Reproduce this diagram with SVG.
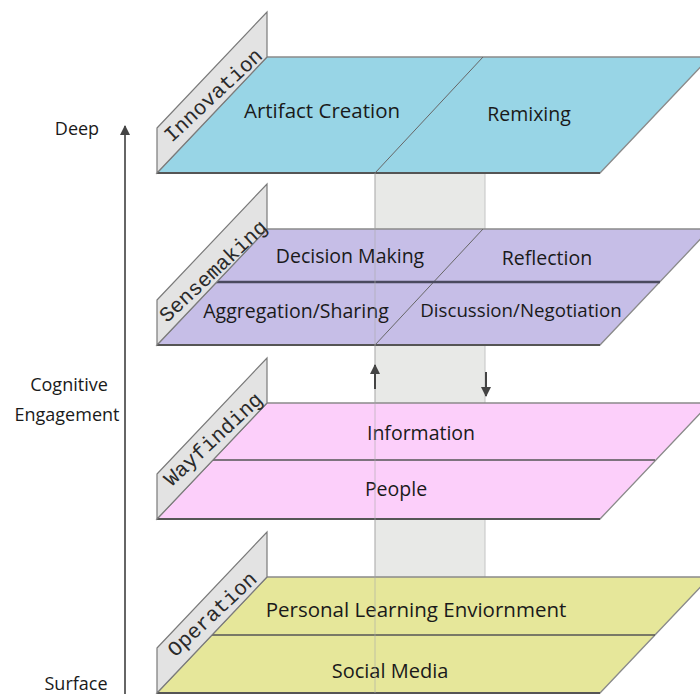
<svg xmlns="http://www.w3.org/2000/svg" width="700" height="694" viewBox="0 0 700 694">
<defs>
<style>
.lbl{font-family:"Open Sans","Liberation Sans",sans-serif;font-size:19.5px;fill:#1a1a1a;text-anchor:middle}
.ax{font-family:"Open Sans","Liberation Sans",sans-serif;font-size:18px;fill:#1a1a1a;text-anchor:middle}
.pt{font-family:"Liberation Mono","DejaVu Sans Mono",monospace;font-size:21px;fill:#2a2a2a;text-anchor:middle;dominant-baseline:central}
.panel{fill:#e3e3e3;stroke:#7a7a7a;stroke-width:1.2}
.edge{stroke:#8a8a8a;stroke-width:1.3}
.bot{stroke:#555;stroke-width:2}
.mid{stroke:#555;stroke-width:1.6}
.div{stroke:#666;stroke-width:1;fill:none}
</style>
<marker id="ah" viewBox="0 0 10 10" refX="9" refY="5" markerWidth="5" markerHeight="6" orient="auto-start-reverse" markerUnits="strokeWidth">
<path d="M0,0 L10,5 L0,10 z" fill="#444"/>
</marker>
</defs>
<rect width="700" height="694" fill="#fff"/>

<g id="band">
<rect x="375" y="173" width="110" height="404" fill="#e8e9e7"/>
<line x1="485" y1="173" x2="485" y2="577" stroke="#c4c4c4" stroke-width="1"/>
<line x1="375" y1="173" x2="375" y2="577" stroke="#c4c4c4" stroke-width="1"/>
</g>

<g id="operation">
<polygon points="267,577 710,577 600,693 157,693" fill="#e6e79a" class="edge"/>
<line x1="157" y1="693" x2="600" y2="693" class="bot"/>
<line x1="212" y1="635" x2="655" y2="635" class="mid"/>
<polygon points="157,648 267,532 267,577 157,693" class="panel"/>
<text class="pt" transform="translate(213,615) rotate(-43)">Operation</text>
<text class="lbl" x="416" y="617" style="font-size:20.5px">Personal Learning Enviornment</text>
<text class="lbl" x="390" y="678" style="font-size:20px">Social Media</text>
</g>

<g id="wayfinding">
<polygon points="267,403 710,403 600,519 157,519" fill="#fccffa" class="edge"/>
<line x1="157" y1="519" x2="600" y2="519" class="bot"/>
<line x1="212" y1="460" x2="655" y2="460" class="mid"/>
<polygon points="157,474 267,358 267,403 157,519" class="panel"/>
<text class="pt" transform="translate(214,440) rotate(-43)">Wayfinding</text>
<text class="lbl" x="421" y="440">Information</text>
<text class="lbl" x="396" y="496">People</text>
</g>

<g id="sensemaking">
<polygon points="267,229 710,229 600,345 157,345" fill="#c6bee7" class="edge"/>
<line x1="157" y1="345" x2="600" y2="345" class="bot"/>
<line x1="483" y1="229" x2="375" y2="345" class="div"/>
<line x1="212" y1="282" x2="660" y2="282" stroke="#4a4a5e" stroke-width="2.6"/>
<polygon points="157,300 267,184 267,229 157,345" class="panel"/>
<text class="pt" transform="translate(214,272) rotate(-43)">Sensemaking</text>
<text class="lbl" x="350" y="263">Decision Making</text>
<text class="lbl" x="547" y="265">Reflection</text>
<text class="lbl" x="296" y="318">Aggregation/Sharing</text>
<text class="lbl" x="521" y="317" style="font-size:18.7px">Discussion/Negotiation</text>
</g>

<g id="innovation">
<polygon points="267,57 710,57 600,173 157,173" fill="#98d5e6" class="edge"/>
<line x1="157" y1="173" x2="600" y2="173" class="bot"/>
<line x1="483" y1="57" x2="375" y2="173" class="div"/>
<polygon points="157,128 267,12 267,57 157,173" class="panel"/>
<text class="pt" transform="translate(214,96) rotate(-43)">Innovation</text>
<text class="lbl" x="322" y="118" fill="#1b2b3b" style="font-size:20.5px">Artifact Creation</text>
<text class="lbl" x="529" y="121">Remixing</text>
</g>

<g id="connectors">
<line x1="375" y1="173" x2="375" y2="693" stroke="#aaa" stroke-width="1" opacity="0.6"/>
<line x1="375" y1="389" x2="375" y2="365" stroke="#444" stroke-width="2" marker-end="url(#ah)"/>
<line x1="486" y1="372" x2="486" y2="396" stroke="#444" stroke-width="2" marker-end="url(#ah)"/>
<line x1="125" y1="694" x2="125" y2="126" stroke="#666" stroke-width="2" marker-end="url(#ah)"/>
</g>

<g id="axis-labels">
<text class="ax" x="77" y="135">Deep</text>
<text class="ax" x="69" y="391">Cognitive</text>
<text class="ax" x="67" y="421">Engagement</text>
<text class="ax" x="76" y="690">Surface</text>
</g>
</svg>
